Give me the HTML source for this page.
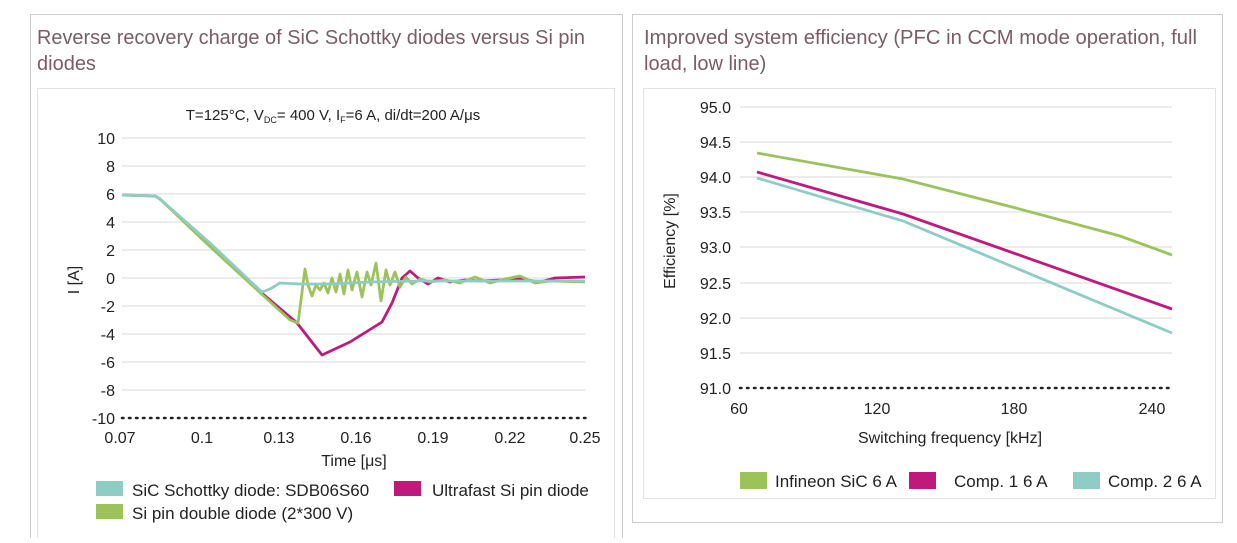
<!DOCTYPE html>
<html><head><meta charset="utf-8"><style>
body{margin:0;background:#fff;width:1237px;height:538px;overflow:hidden}
svg text{font-family:"Liberation Sans",sans-serif;fill:#222}
svg text.t{fill:#7a5c68;font-size:20px}
</style></head><body>
<svg width="1237" height="538" viewBox="0 0 1237 538" xmlns="http://www.w3.org/2000/svg">
<rect x="30.5" y="14.5" width="592" height="530" fill="none" stroke="#ccc"/>
<rect x="37.5" y="88.5" width="577" height="460" fill="none" stroke="#e2e2e2"/>
<rect x="632.5" y="14.5" width="590" height="508" fill="none" stroke="#ccc"/>
<rect x="643.5" y="88.5" width="572" height="410" fill="none" stroke="#e2e2e2"/>
<text class="t" x="37" y="44" textLength="548" lengthAdjust="spacingAndGlyphs">Reverse recovery charge of SiC Schottky diodes versus Si pin</text>
<text class="t" x="37" y="70">diodes</text>
<text class="t" x="644" y="44" textLength="553" lengthAdjust="spacingAndGlyphs">Improved system efficiency (PFC in CCM mode operation, full</text>
<text class="t" x="644" y="70">load, low line)</text>

<g stroke="#e6e6e6" stroke-width="1.5">
<line x1="122" y1="138" x2="585" y2="138"/><line x1="122" y1="166" x2="585" y2="166"/>
<line x1="122" y1="194" x2="585" y2="194"/><line x1="122" y1="222" x2="585" y2="222"/>
<line x1="122" y1="250" x2="585" y2="250"/><line x1="122" y1="278" x2="585" y2="278"/>
<line x1="122" y1="306" x2="585" y2="306"/><line x1="122" y1="334" x2="585" y2="334"/>
<line x1="122" y1="362" x2="585" y2="362"/><line x1="122" y1="390" x2="585" y2="390"/>
</g>
<line x1="122" y1="418" x2="590" y2="418" stroke="#222" stroke-width="2.5" stroke-dasharray="1.5 5.5" stroke-linecap="round"/>
<g font-size="16" text-anchor="end">
<text x="115" y="144">10</text><text x="115" y="172">8</text><text x="115" y="200">6</text>
<text x="115" y="228">4</text><text x="115" y="256">2</text><text x="115" y="284">0</text>
<text x="115" y="312">-2</text><text x="115" y="340">-4</text><text x="115" y="368">-6</text>
<text x="115" y="396">-8</text><text x="115" y="424">-10</text>
</g>
<g font-size="16" text-anchor="middle">
<text x="120" y="443">0.07</text><text x="202" y="443">0.1</text><text x="279" y="443">0.13</text>
<text x="356" y="443">0.16</text><text x="433" y="443">0.19</text><text x="510" y="443">0.22</text>
<text x="585" y="443">0.25</text>
<text x="354" y="466">Time [μs]</text>
<text x="333" y="120" font-size="15">T=125°C, V<tspan font-size="9" dy="3">DC</tspan><tspan dy="-3">= 400 V, I</tspan><tspan font-size="9" dy="3">F</tspan><tspan dy="-3">=6 A, di/dt=200 A/μs</tspan></text>
</g>
<text font-size="16" transform="translate(79,280) rotate(-90)" text-anchor="middle">I [A]</text>
<g fill="none" stroke-width="2.8" stroke-linejoin="round">
<path stroke="#c0197e" d="M122 195 L155 196 L160 199 L200 236 L250 283 L297 323 L322 355 L350 342 L382 322 L392 303 L402 278 L410 271 L418 278 L428 284 L438 278 L450 282 L465 280 L480 281 L500 280 L520 279 L540 282 L555 278 L585 277"/>
<path stroke="#9cc35a" d="M122 195 L155 196 L160 199 L205 242 L255 288 L290 320 L298 323 L301 300 L305 269 L308 285 L312 296 L316 285 L320 290 L324 283 L328 293 L332 278 L336 292 L340 274 L344 294 L348 270 L352 290 L357 272 L362 297 L367 272 L371 285 L376 263 L381 301 L386 270 L390 285 L395 272 L400 287 L406 277 L412 284 L420 279 L430 282 L445 280 L460 283 L475 277 L490 283 L505 279 L520 276 L535 283 L550 281 L585 282"/>
<path stroke="#8ecdc4" d="M122 195 L155 196 L160 199 L210 243 L250 281 L262 292 L270 289 L280 283 L300 284 L330 284 L370 282 L420 281 L500 281 L585 281"/>
</g>
<rect x="96" y="481" width="27" height="15" fill="#8ecdc4"/>
<text x="132" y="496" font-size="17">SiC Schottky diode: SDB06S60</text>
<rect x="394" y="481" width="27" height="15" fill="#c0197e"/>
<text x="432" y="496" font-size="17">Ultrafast Si pin diode</text>
<rect x="96" y="504" width="27" height="15" fill="#9cc35a"/>
<text x="132" y="519" font-size="17">Si pin double diode (2*300 V)</text>

<g stroke="#e6e6e6" stroke-width="1.5">
<line x1="740" y1="107" x2="1172" y2="107"/><line x1="740" y1="142" x2="1172" y2="142"/>
<line x1="740" y1="177" x2="1172" y2="177"/><line x1="740" y1="212" x2="1172" y2="212"/>
<line x1="740" y1="247" x2="1172" y2="247"/><line x1="740" y1="283" x2="1172" y2="283"/>
<line x1="740" y1="318" x2="1172" y2="318"/><line x1="740" y1="353" x2="1172" y2="353"/>
</g>
<line x1="740" y1="388" x2="1174" y2="388" stroke="#222" stroke-width="2.5" stroke-dasharray="1.5 5.5" stroke-linecap="round"/>
<g font-size="16" text-anchor="end">
<text x="731" y="113">95.0</text><text x="731" y="148">94.5</text><text x="731" y="183">94.0</text>
<text x="731" y="218">93.5</text><text x="731" y="253">93.0</text><text x="731" y="289">92.5</text>
<text x="731" y="324">92.0</text><text x="731" y="359">91.5</text><text x="731" y="394">91.0</text>
</g>
<g font-size="16" text-anchor="middle">
<text x="739" y="414">60</text><text x="877" y="414">120</text><text x="1014" y="414">180</text><text x="1152" y="414">240</text>
<text x="950" y="443">Switching frequency [kHz]</text>
</g>
<text font-size="16" transform="translate(675,241) rotate(-90)" text-anchor="middle">Efficiency [%]</text>
<g fill="none" stroke-width="2.8">
<path stroke="#9cc35a" d="M757 153 L903 179 L1012 207 L1120 236 L1172 255"/>
<path stroke="#8ecdc4" d="M757 178 L903 221 L1172 333"/>
<path stroke="#c0197e" d="M757 172 L903 214 L1172 309"/>
</g>
<rect x="740" y="472" width="27" height="17" fill="#9cc35a"/>
<text x="775" y="487" font-size="17">Infineon SiC 6 A</text>
<rect x="909" y="472" width="27" height="17" fill="#c0197e"/>
<text x="954" y="487" font-size="17">Comp. 1 6 A</text>
<rect x="1073" y="472" width="27" height="17" fill="#8ecdc4"/>
<text x="1108" y="487" font-size="17">Comp. 2 6 A</text>
</svg>
</body></html>
